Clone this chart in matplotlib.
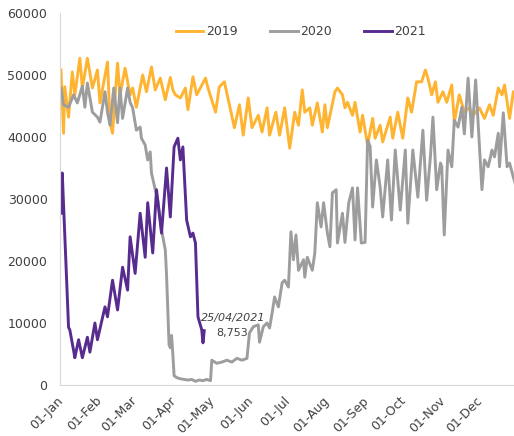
import matplotlib
matplotlib.use("Agg")
import matplotlib.pyplot as plt

# day of year (0 = 01-Jan) and values
days_2019 = [0, 2, 3, 6, 9, 11, 15, 17, 21, 25, 29, 31, 37, 39, 41, 45, 47, 51, 55, 57,
             60, 65, 68, 72, 75, 79, 83, 87, 89, 91, 95, 99, 101, 105, 108, 115, 117, 123,
             126, 130, 134, 138, 142, 145, 149, 152, 157, 160, 164, 166, 171, 174, 178,
             182, 186, 189, 192, 194, 198, 200, 204, 208, 210, 212, 218, 220, 224, 226,
             228, 232, 234, 238, 240, 244, 248, 250, 254, 256, 262, 264, 268, 272, 276,
             279, 283, 287, 290, 292, 295, 298, 300, 304, 307, 311, 313, 317, 321, 325,
             328, 333, 337, 341, 344, 348, 351, 353, 357, 360, 364]
vals_2019 = [50800, 40600, 48100, 43200, 50500, 46800, 52700, 47900, 52700, 47900, 50800,
             45500, 52100, 42400, 40600, 51900, 46800, 51100, 46800, 47900, 44800, 50000,
             47300, 51300, 47600, 49500, 46000, 49600, 47600, 46800, 46300, 47900, 44400,
             49700, 46800, 49500, 47900, 44000, 48100, 48900, 45200, 41500, 45200, 40300,
             46300, 41500, 43500, 40800, 44700, 40300, 44000, 40300, 44700, 38200, 44000,
             41900, 47600, 44000, 44700, 41900, 45500, 40800, 45200, 41500, 47300, 47900,
             46800, 44700, 45600, 43500, 45600, 40800, 43500, 38700, 43000, 39800, 41900,
             39200, 43200, 39800, 44000, 39800, 46300, 44000, 48900, 48900, 50800, 49500,
             46800, 48900, 45600, 47300, 45600, 48400, 42400, 46800, 44000, 44700, 43500,
             44700, 43000, 45200, 43500, 47900, 46800, 48400, 43000, 47300, 46500]

days_2020 = [0, 2, 6, 10, 13, 17, 19, 21, 25, 29, 31, 35, 37, 39, 42, 45, 47, 49, 53, 55,
             57, 60, 63, 64, 67, 69, 71, 72, 75, 77, 80, 83, 84, 85, 86, 87, 88, 89, 90,
             92, 95, 98, 101, 104, 107, 110, 113, 116, 119, 120, 124, 128, 132, 136, 140,
             144, 148, 150, 153, 157, 158, 161, 164, 166, 168, 170, 173, 176, 178, 181,
             183, 185, 187, 189, 193, 194, 196, 200, 202, 204, 207, 209, 212, 214, 216,
             219, 220, 224, 226, 229, 232, 234, 236, 239, 242, 244, 246, 248, 251, 254,
             256, 260, 263, 266, 270, 274, 276, 280, 284, 288, 291, 294, 296, 299, 302,
             303, 305, 308, 311, 313, 316, 319, 321, 324, 327, 330, 332, 335, 337, 340,
             343, 345, 348, 349, 352, 355, 357, 360, 363]
vals_2020 = [47900, 45200, 44800, 46800, 45500, 48200, 44800, 48700, 44000, 43200, 42400,
             47300, 44000, 41900, 47900, 42300, 47900, 43000, 47900, 45600, 44700, 41100,
             41600, 39800, 38700, 36300, 37600, 34200, 31500, 29800, 25000, 21800, 17700,
             12000, 6500, 6000, 8000, 5000, 1500, 1200, 1000, 900, 800, 900, 600, 800, 700,
             900, 700, 4000, 3500, 3700, 4000, 3700, 4300, 4000, 4300, 8400, 9400, 9700,
             6900, 9400, 10000, 9200, 11600, 14200, 12600, 16500, 16900, 15800, 24700,
             20200, 24200, 18500, 20200, 17400, 20600, 18500, 21300, 29400, 25500, 29400,
             24500, 22300, 31000, 31500, 22900, 27700, 23000, 29400, 31800, 23400, 31800,
             22900, 23000, 39500, 38500, 28700, 36300, 31900, 27100, 36300, 26600, 37900,
             28200, 37900, 26100, 37900, 30300, 41100, 29800, 36800, 43200, 31500, 35800,
             35200, 24200, 37900, 35200, 42700, 41600, 44800, 40500, 49500, 40000, 49200,
             42000, 31500, 36300, 35200, 37900, 36800, 40600, 35200, 43900, 35200, 35800,
             33500, 31500]

days_2021 = [0, 1, 6, 7, 10, 11, 14, 17, 21, 23, 27, 29, 35, 37, 41, 45, 49, 53, 55, 59,
             63, 67, 69, 73, 76, 80, 84, 87, 90, 93, 95, 97, 100, 103, 105, 107, 109, 112,
             113, 114]
vals_2021 = [27700, 34200, 9300, 8900, 5600, 4400, 7300, 4400, 7700, 5300, 10000, 7300,
             12600, 11000, 16900, 12100, 19000, 15300, 23900, 18000, 27700, 20600, 29400,
             21300, 31500, 24500, 35000, 27100, 38400, 39800, 36300, 38400, 26600, 23900,
             24500, 22900, 11000, 8900, 6800, 8753]

month_days = [0, 31, 59, 90, 120, 151, 181, 212, 243, 273, 304, 334]
month_labels = ["01-Jan", "01-Feb", "01-Mar", "01-Apr", "01-May", "01-Jun",
                "01-Jul", "01-Aug", "01-Sep", "01-Oct", "01-Nov", "01-Dec"]

fig = plt.figure(figsize=(5.14, 4.36), dpi=100)
ax = fig.add_axes([60 / 514, 51 / 436, 459 / 514, 372 / 436])

ax.plot(days_2019, vals_2019, color="#FFB431", lw=2.1, label="2019")
ax.plot(days_2020, vals_2020, color="#9D9D9D", lw=2.1, label="2020")
ax.plot(days_2021, vals_2021, color="#582C8F", lw=2.1, label="2021")

ax.set_xlim(-0.8, 364.5)
ax.set_ylim(0, 60000)
ax.set_yticks(range(0, 60001, 10000))
ax.set_xticks(month_days)
ax.set_xticklabels(month_labels, rotation=45, ha="right", va="center",
                   rotation_mode="anchor")
ax.tick_params(length=0, labelsize=9, labelcolor="#404040")
ax.tick_params(axis="y", pad=9)
ax.tick_params(axis="x", pad=10)

for s in ["top", "right"]:
    ax.spines[s].set_visible(False)
for s in ["left", "bottom"]:
    ax.spines[s].set_color("#D9D9D9")

ax.annotate("25/04/2021", (days_2021[-1], vals_2021[-1]), xytext=(29, 13),
            textcoords="offset pixels", ha="center", va="center",
            fontsize=8, style="italic", color="#404040")
ax.annotate("8,753", (days_2021[-1], vals_2021[-1]), xytext=(28, -2),
            textcoords="offset pixels", ha="center", va="center",
            fontsize=8, color="#404040")

leg = ax.legend(loc="center", bbox_to_anchor=(0.525, 0.949), ncol=3, frameon=False,
                fontsize=9, handlelength=2.2, handletextpad=0.2, columnspacing=2.6)
for t in leg.get_texts():
    t.set_color("#404040")

fig.savefig("out.png", dpi=100)
